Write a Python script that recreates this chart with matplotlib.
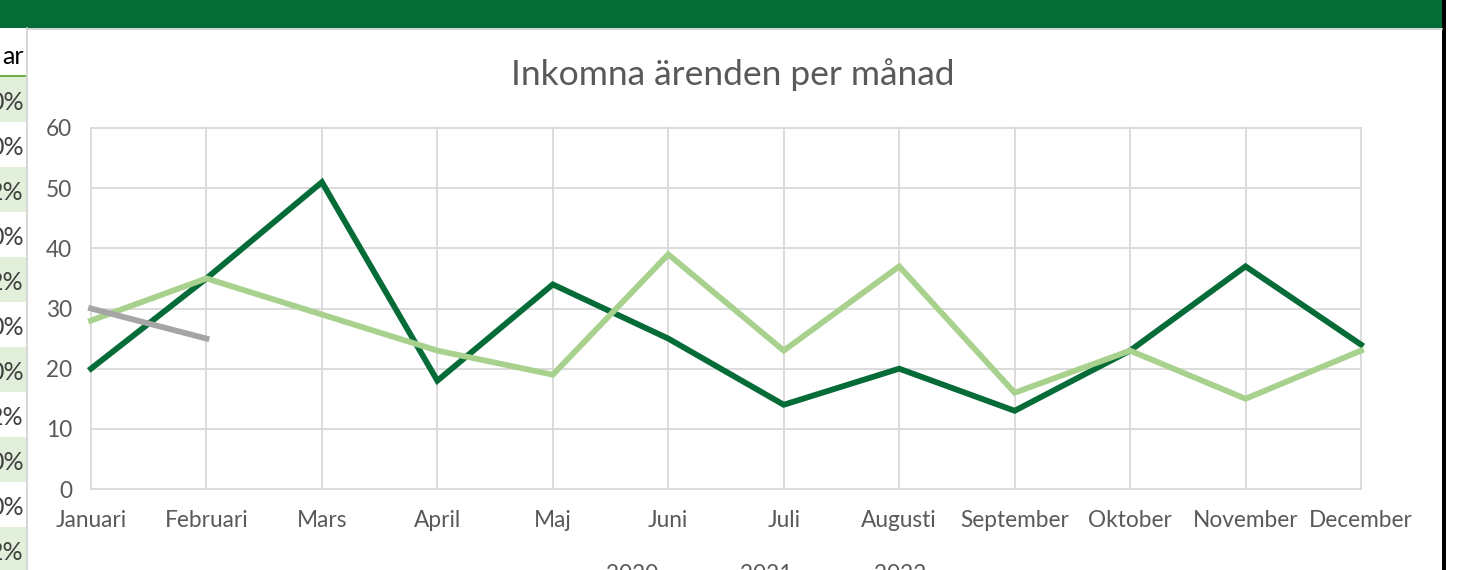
import matplotlib
matplotlib.use("Agg")
import matplotlib.pyplot as plt
from matplotlib.patches import Rectangle

# ---- data ----
months = ["Januari", "Februari", "Mars", "April", "Maj", "Juni", "Juli",
          "Augusti", "September", "Oktober", "November", "December"]
series_names = ["2020", "2021", "2022"]
values_2020 = [20, 35, 51, 18, 34, 25, 14, 20, 13, 23, 37, 24]
values_2021 = [28, 35, 29, 23, 19, 39, 23, 37, 16, 23, 15, 23]
values_2022 = [30, 25]
y_ticks = [0, 10, 20, 30, 40, 50, 60]
title = "Inkomna ärenden per månad"
sheet_header = "ar"
sheet_cells = ["0%", "0%", "2%", "0%", "2%", "0%", "0%", "2%", "0%", "0%", "2%"]

colors = ["#056B37", "#A9D18E", "#A5A5A5"]
FONT = "Lato"
TXT = "#595959"

W, H = 1464, 570
fig = plt.figure(figsize=(W / 100, H / 100), dpi=100)

# background (screenshot surroundings) in pixel coordinates
bg = fig.add_axes([0, 0, 1, 1], zorder=0)
bg.set_xlim(0, W)
bg.set_ylim(H, 0)
bg.axis("off")
bg.add_patch(Rectangle((0, 0), 1442, 28, color="#056B37", lw=0))
bg.add_patch(Rectangle((1442, 0), 4, H, color="#000000", lw=0))
# sheet strip
bg.add_patch(Rectangle((0, 75), 26, 2.5, color="#70AD47", lw=0))
bg.text(24, 56, sheet_header, ha="right", va="center", fontsize=18,
        color="#000000", family=FONT)
row_h = 45
for i, s in enumerate(sheet_cells):
    y0 = 77 + i * row_h
    if i % 2 == 0:
        bg.add_patch(Rectangle((0, y0), 26, row_h, color="#E2EFDA", lw=0))
    bg.text(24, y0 + row_h / 2 + 3, s, ha="right", va="center", fontsize=18,
            color="#404040", family=FONT)
bg.plot([27, 27], [28, H], color="#D0D0D0", lw=1.2)
bg.plot([27, 1442], [29, 29], color="#D0D0D0", lw=1.2)

# title
fig.text(733 / W, 1 - 75 / H, title, ha="center", va="center",
         fontsize=25.5, color=TXT, family=FONT)

# plot area
x0, x1, ytop, ybot = 91, 1361, 128, 489
ax = fig.add_axes([x0 / W, 1 - ybot / H, (x1 - x0) / W, (ybot - ytop) / H],
                  zorder=2)
ax.patch.set_alpha(0)
xs = list(range(len(months)))
ax.set_xlim(0, len(months) - 1)
ax.set_ylim(0, 60)
ax.set_xticks(xs)
ax.set_xticklabels(months)
ax.set_yticks(y_ticks)
for sp in ax.spines.values():
    sp.set_visible(False)
ax.grid(True, color="#D9D9D9", lw=1.3)
for gl in ax.get_xgridlines() + ax.get_ygridlines():
    gl.set_clip_on(False)
ax.set_axisbelow(True)
ax.tick_params(length=0, labelsize=16.3, labelcolor=TXT)
ax.tick_params(axis="y", pad=13.5)
ax.tick_params(axis="x", pad=15)
for lab in ax.get_xticklabels() + ax.get_yticklabels():
    lab.set_family(FONT)

all_vals = [values_2020, values_2021, values_2022]
handles = []
for name, vals, c in zip(series_names, all_vals, colors):
    ln, = ax.plot(xs[:len(vals)], vals, color=c, lw=4.2, label=name,
                  solid_joinstyle="miter", clip_on=False, zorder=3)
    handles.append(ln)

leg = fig.legend(handles=handles, labels=series_names, loc="upper center",
                 bbox_to_anchor=(738 / W, 1 - 553 / H), ncol=3, frameon=False,
                 handlelength=2.3, handletextpad=0.2, columnspacing=1.1,
                 borderpad=0.0, prop={"family": FONT, "size": 16.3})
for t in leg.get_texts():
    t.set_color(TXT)

fig.savefig("out.png", dpi=100)
